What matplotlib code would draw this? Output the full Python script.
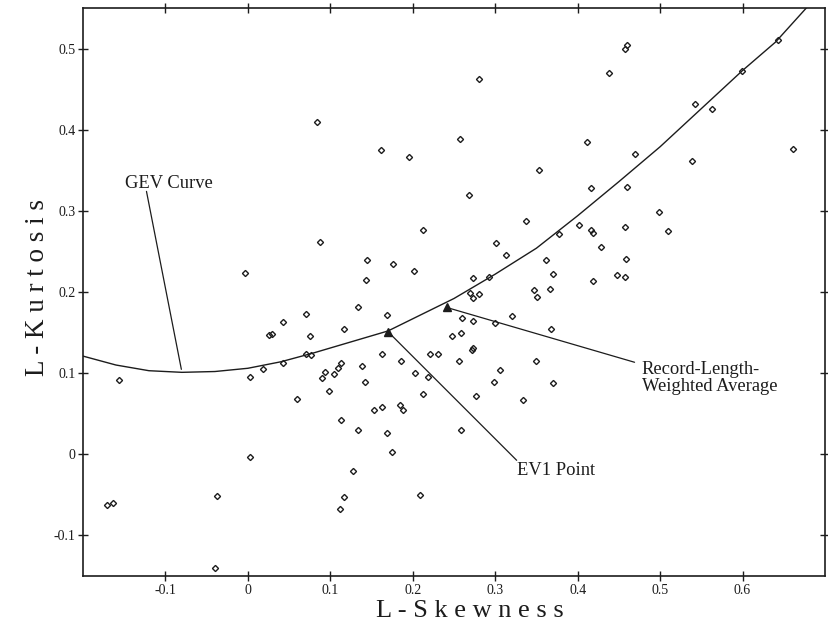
import matplotlib
matplotlib.use("Agg")
import matplotlib.pyplot as plt

# station L-moment ratios
skew = [-0.156, -0.171, -0.164, -0.037, -0.040, 0.002, 0.003, -0.003, 0.018, 0.026,
        0.029, 0.042, 0.042, 0.059, 0.070, 0.075, 0.070, 0.077, 0.090, 0.094,
        0.098, 0.104, 0.109, 0.113, 0.113, 0.116, 0.116, 0.112, 0.133, 0.134,
        0.128, 0.138, 0.142, 0.153, 0.163, 0.163, 0.169, 0.169, 0.175, 0.184,
        0.188, 0.186, 0.203, 0.209, 0.087, 0.144, 0.176, 0.202, 0.212, 0.143,
        0.221, 0.230, 0.268, 0.337, 0.402, 0.416, 0.418, 0.377, 0.428, 0.301,
        0.313, 0.361, 0.370, 0.419, 0.448, 0.273, 0.292, 0.347, 0.351, 0.366,
        0.270, 0.273, 0.280, 0.260, 0.273, 0.300, 0.320, 0.368, 0.247, 0.258,
        0.272, 0.273, 0.256, 0.349, 0.306, 0.218, 0.298, 0.370, 0.212, 0.277,
        0.334, 0.258, 0.084, 0.162, 0.196, 0.280, 0.438, 0.257, 0.411, 0.353,
        0.416, 0.457, 0.460, 0.469, 0.460, 0.457, 0.499, 0.510, 0.459, 0.457,
        0.542, 0.563, 0.599, 0.643, 0.539, 0.661]
kurt = [0.092, -0.063, -0.060, -0.051, -0.140, 0.095, -0.003, 0.223, 0.105, 0.147,
        0.148, 0.163, 0.112, 0.068, 0.173, 0.146, 0.124, 0.122, 0.094, 0.102,
        0.078, 0.099, 0.106, 0.113, 0.042, 0.154, -0.053, -0.067, 0.182, 0.030,
        -0.021, 0.109, 0.089, 0.055, 0.058, 0.124, 0.172, 0.026, 0.003, 0.061,
        0.055, 0.115, 0.100, -0.050, 0.262, 0.240, 0.234, 0.226, 0.277, 0.215,
        0.123, 0.123, 0.320, 0.287, 0.282, 0.277, 0.273, 0.272, 0.255, 0.260,
        0.246, 0.239, 0.222, 0.214, 0.221, 0.217, 0.218, 0.202, 0.194, 0.204,
        0.199, 0.192, 0.198, 0.168, 0.164, 0.162, 0.171, 0.155, 0.146, 0.149,
        0.129, 0.131, 0.115, 0.115, 0.104, 0.095, 0.089, 0.088, 0.074, 0.072,
        0.067, 0.030, 0.410, 0.375, 0.366, 0.462, 0.470, 0.389, 0.385, 0.350,
        0.328, 0.500, 0.505, 0.370, 0.330, 0.280, 0.298, 0.275, 0.241, 0.219,
        0.432, 0.425, 0.472, 0.511, 0.362, 0.376]

# GEV curve
gev_skew = [-0.20, -0.16, -0.12, -0.08, -0.04, 0.00, 0.04, 0.08, 0.12, 0.17,
            0.22, 0.25, 0.30, 0.35, 0.40, 0.45, 0.50, 0.55, 0.60, 0.64, 0.68]
gev_kurt = [0.121, 0.110, 0.103, 0.101, 0.102, 0.106, 0.114, 0.125, 0.137, 0.152,
            0.177, 0.192, 0.222, 0.254, 0.294, 0.336, 0.379, 0.426, 0.473, 0.508, 0.553]

ev1 = (0.170, 0.151)
rlwa = (0.241, 0.181)

xticks = [-0.1, 0, 0.1, 0.2, 0.3, 0.4, 0.5, 0.6]
xlabels = ["-0.1", "0", "0.1", "0.2", "0.3", "0.4", "0.5", "0.6"]
yticks = [-0.1, 0, 0.1, 0.2, 0.3, 0.4, 0.5]
ylabels = ["-0.1", "0", "0.1", "0.2", "0.3", "0.4", "0.5"]

plt.rcParams["font.family"] = ["Liberation Serif", "DejaVu Serif"]
ink = "#1c1c1c"

fig = plt.figure(figsize=(8.29, 6.27), dpi=100)
ax = fig.add_axes([83 / 829, 51 / 627, 742 / 829, 568 / 627])

ax.plot(gev_skew, gev_kurt, color=ink, lw=1.0)
ax.plot(skew, kurt, linestyle="none", marker="D", ms=3.1, mfc="none", mec=ink, mew=1.0)
ax.plot([ev1[0], rlwa[0]], [ev1[1], rlwa[1]], linestyle="none", marker="^", ms=6, color=ink)

line = dict(arrowstyle="-", color=ink, lw=0.9, shrinkA=0, shrinkB=0)
ax.annotate("", xy=(-0.0807, 0.1047), xytext=(-0.123, 0.324), arrowprops=line)
ax.text(-0.1487, 0.3277, "GEV Curve", fontsize=13.3, color=ink, va="baseline")
ax.annotate("", xy=rlwa, xytext=(0.469, 0.1134), arrowprops=line)
ax.text(0.4775, 0.1155, "Record-Length-\nWeighted Average", fontsize=13.3, color=ink,
        va="top", linespacing=1.0)
ax.annotate("", xy=ev1, xytext=(0.326, -0.0074), arrowprops=line)
ax.text(0.326, -0.0259, "EV1 Point", fontsize=13.3, color=ink, va="baseline")

ax.set_xlim(-0.2, 0.7)
ax.set_ylim(-0.15, 0.55)
ax.set_xticks(xticks, xlabels)
ax.set_yticks(yticks, ylabels)
ax.tick_params(direction="inout", length=7, width=1, top=True, right=True,
               labelsize=10, colors=ink, pad=2)
for s in ax.spines.values():
    s.set_color(ink)
    s.set_linewidth(1.2)

ax.set_xlabel("L - S k e w n e s s", fontsize=19, color=ink)
ax.xaxis.set_label_coords((470 - 83) / 742, (576 - 617) / 568)
ax.xaxis.label.set_va("baseline")
ax.set_ylabel("L - K u r t o s i s", fontsize=19.5, color=ink)
ax.yaxis.set_label_coords((38 - 83) / 742, (576 - 288) / 568)
ax.yaxis.label.set_va("center")

fig.savefig("out.png", dpi=100)
